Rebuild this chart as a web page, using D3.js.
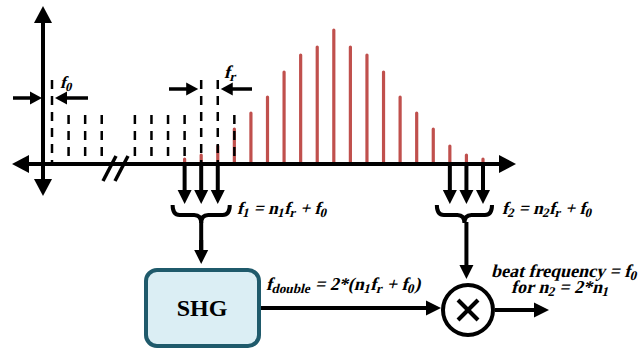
<!DOCTYPE html>
<html>
<head>
<meta charset="utf-8">
<script src="https://cdn.jsdelivr.net/npm/d3@7"></script>
<style>
  body { margin: 0; background: #fff; }
  text { font-family: "Liberation Serif", "Times New Roman", serif; font-weight: bold; }
</style>
</head>
<body>
<script>
// comb teeth: index along the frequency axis
var dashLeft = [0, 1, 2, 3];
var dashRight = [5, 6, 7, 8, 9, 10, 11];
var dashTall = [0, 9, 10];          // teeth that carry the f0 / fr markers
var redIdx = d3.range(8, 27);
var redAmp = [5, 9, 18, 35, 51, 67, 92, 109, 117, 134, 117, 109, 92, 67, 51, 35, 18, 9, 5];
var dashShort = 49, dashLong = 84;
var group1 = [8, 9, 10];            // teeth picked for f1
var group2 = [24, 25, 26];          // teeth picked for f2

var width = 638, height = 348;
var red = "#c0504d";

var svg = d3.select("body").append("svg")
  .attr("width", width)
  .attr("height", height);

var x = d3.scaleLinear().domain([0, 26]).range([52, 483]);
var y = d3.scaleLinear().domain([0, 134]).range([164, 30]);
var axisY = y(0), axisX = 43;

function head(x2, y2, ang, len, w) {
  var c = Math.cos(ang), s = Math.sin(ang);
  var bx = x2 - c * len, by = y2 - s * len;
  svg.append("path")
    .attr("d", "M" + x2 + "," + y2 +
      "L" + (bx - s * w / 2) + "," + (by + c * w / 2) +
      "L" + (bx + s * w / 2) + "," + (by - c * w / 2) + "Z")
    .attr("fill", "#000");
}

function arrow(x1, y1, x2, y2, len, w, sw) {
  var ang = Math.atan2(y2 - y1, x2 - x1);
  svg.append("line")
    .attr("x1", x1).attr("y1", y1)
    .attr("x2", x2 - Math.cos(ang) * (len - 2)).attr("y2", y2 - Math.sin(ang) * (len - 2))
    .attr("stroke", "#000").attr("stroke-width", sw);
  head(x2, y2, ang, len, w);
}

function brace(x0, x1, y0, h) {
  var xm = (x0 + x1) / 2, r = 7, ym = y0 + h * 0.55;
  svg.append("path")
    .attr("d", "M" + x0 + "," + y0 +
      "Q" + x0 + "," + ym + " " + (x0 + r) + "," + ym +
      "L" + (xm - r) + "," + ym +
      "Q" + xm + "," + ym + " " + xm + "," + (y0 + h) +
      "Q" + xm + "," + ym + " " + (xm + r) + "," + ym +
      "L" + (x1 - r) + "," + ym +
      "Q" + x1 + "," + ym + " " + x1 + "," + y0)
    .attr("fill", "none").attr("stroke", "#000").attr("stroke-width", 4);
}

// red comb lines
svg.selectAll("line.red")
  .data(redIdx)
  .enter().append("line")
  .attr("class", "red")
  .attr("x1", function(d) { return x(d); })
  .attr("x2", function(d) { return x(d); })
  .attr("y1", axisY)
  .attr("y2", function(d, i) { return y(redAmp[i]); })
  .attr("stroke", red)
  .attr("stroke-width", 3.2)
  .attr("stroke-linecap", "round");

// dashed comb lines
svg.selectAll("line.dash")
  .data(dashLeft.concat(dashRight))
  .enter().append("line")
  .attr("class", "dash")
  .attr("x1", function(d) { return x(d); })
  .attr("x2", function(d) { return x(d); })
  .attr("y1", function(d) { return y(dashTall.indexOf(d) >= 0 ? dashLong : dashShort); })
  .attr("y2", axisY)
  .attr("stroke", "#000")
  .attr("stroke-width", 2.5)
  .attr("stroke-dasharray", "9,7");

// axes
svg.append("line").attr("x1", 27).attr("x2", 502).attr("y1", axisY).attr("y2", axisY)
  .attr("stroke", "#000").attr("stroke-width", 4);
head(516, axisY, 0, 17, 18);
head(12, axisY, Math.PI, 17, 18);
svg.append("line").attr("x1", axisX).attr("x2", axisX).attr("y1", 22).attr("y2", 180)
  .attr("stroke", "#000").attr("stroke-width", 4);
head(axisX, 6, -Math.PI / 2, 17, 18);
head(axisX, 196, Math.PI / 2, 17, 18);

// axis break
[0, 12].forEach(function(o) {
  svg.append("line")
    .attr("x1", 103 + o).attr("y1", 181).attr("x2", 116 + o).attr("y2", 156)
    .attr("stroke", "#000").attr("stroke-width", 3.5);
});

// f0 and fr markers
arrow(13, 98, axisX - 1, 98, 12, 13, 3.5);
arrow(88, 98, x(0) + 3, 98, 12, 13, 3.5);
arrow(169, 89, x(9) - 3, 89, 12, 13, 3.5);
arrow(252, 89, x(10) + 3, 89, 12, 13, 3.5);

// bold serif, slanted by hand so it does not fall back to a sans italic
function label(tx, ty, parts, size) {
  var t = svg.append("text")
    .attr("transform", "translate(" + tx + "," + ty + ") skewX(-14)")
    .attr("font-size", size);
  parts.forEach(function(p) {
    var s = t.append("tspan").text(p[0]);
    if (p[1]) s.attr("font-size", size * 0.74).attr("dy", 3);
    else s.attr("dy", p[2] ? -3 : 0);
  });
  return t;
}

label(60, 88, [["f"], ["0", 1]], 17);
label(224, 78, [["f"], ["r", 1]], 18);

// picked teeth and braces
group1.forEach(function(d) { arrow(x(d), axisY, x(d), 204, 14, 14, 4); });
group2.forEach(function(d) { arrow(x(d), axisY, x(d), 204, 14, 14, 4); });
brace(x(8) - 12, x(10) + 12, 205, 18);
brace(x(24) - 13, x(26) + 9, 205, 18);

label(237, 214, [["f"], ["1", 1], [" = n", 0, 1], ["1", 1], ["f", 0, 1], ["r", 1], [" + f", 0, 1], ["0", 1]], 17.5);
label(502, 214, [["f"], ["2", 1], [" = n", 0, 1], ["2", 1], ["f", 0, 1], ["r", 1], [" + f", 0, 1], ["0", 1]], 17.5);

// SHG box
svg.append("line").attr("x1", x(9)).attr("x2", x(9)).attr("y1", 222).attr("y2", 252)
  .attr("stroke", "#000").attr("stroke-width", 4);
arrow(x(9), 240, x(9), 264, 14, 14, 4);
svg.append("rect").attr("x", 146).attr("y", 270).attr("width", 113).attr("height", 76)
  .attr("rx", 11).attr("fill", "#dbeef4").attr("stroke", "#1f5a6b").attr("stroke-width", 4);
svg.append("text").attr("x", 202).attr("y", 316).attr("text-anchor", "middle")
  .attr("font-size", 24).text("SHG");

// mixer
var cx = 468, cy = 310, r = 25;
arrow(x(25), 222, x(25), 279, 14, 14, 4);
arrow(261, 308, cx - r - 2, 308, 15, 15, 4);
svg.append("circle").attr("cx", cx).attr("cy", cy).attr("r", r)
  .attr("fill", "#fff").attr("stroke", "#000").attr("stroke-width", 4);
[[-1, -1], [-1, 1]].forEach(function(s) {
  svg.append("line")
    .attr("x1", cx + s[0] * 10).attr("y1", cy + s[1] * 10)
    .attr("x2", cx - s[0] * 10).attr("y2", cy - s[1] * 10)
    .attr("stroke", "#000").attr("stroke-width", 4);
});
arrow(cx + r + 2, 310, 549, 310, 15, 15, 4);

label(266, 290, [["f"], ["double", 1], [" = 2*(n", 0, 1], ["1", 1], ["f", 0, 1], ["r", 1], [" + f", 0, 1], ["0", 1], [")", 0, 1]], 18);
label(491, 277, [["beat frequency = f"], ["0", 1]], 18);
label(511, 293, [["for n"], ["2", 1], [" = 2*n", 0, 1], ["1", 1]], 18);
</script>
</body>
</html>
